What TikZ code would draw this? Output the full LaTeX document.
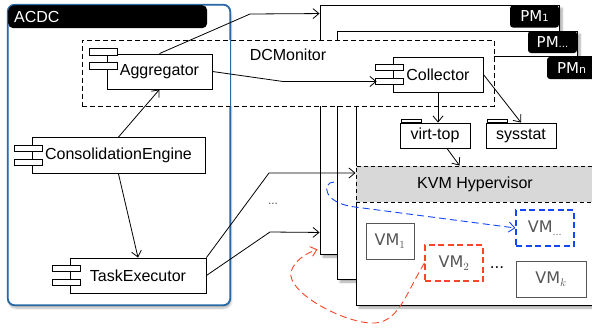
\documentclass[tikz,border=0pt]{standalone}
\usepackage{fontspec}
\setmainfont{Liberation Sans}
\newfontfamily\vmfont{DejaVu Sans}
\usetikzlibrary{arrows.meta, shadows.blur}

\definecolor{acdcblue}{RGB}{40,105,165}
\definecolor{vmblue}{RGB}{20,70,250}
\definecolor{vmred}{RGB}{250,70,40}
\definecolor{kvmgray}{RGB}{216,216,216}
\definecolor{vmgray}{RGB}{85,85,85}

\newcommand{\comptabs}[2][0]{%
  \draw[tabbox] ([xshift=-17pt,yshift=10.5pt+#1pt]#2.west) rectangle ++(28,6.5);
  \draw[tabbox] ([xshift=-17pt,yshift=-3.5pt+#1pt]#2.west) rectangle ++(28,6.5);}
\newcommand{\pkgtab}[1]{%
  \draw[tabbox] ([xshift=2pt]#1.north west) rectangle ++(20,-3);}

\tikzset{
  txt/.style={font=\fontsize{16}{19}\selectfont},
  comp/.style={draw, fill=white, line width=0.9pt, minimum height=35pt, inner sep=0pt, txt},
  tabbox/.style={draw, fill=white, line width=0.9pt},
  pkg/.style={draw, fill=white, line width=0.9pt, minimum width=70pt, minimum height=25pt, inner sep=0pt, txt},
  pmbox/.style={draw, fill=white, line width=0.9pt, inner sep=0pt,
    blur shadow={shadow xshift=3pt, shadow yshift=-3pt, shadow blur steps=6, shadow opacity=35}},
  pmtab/.style={fill=black, rounded corners=3pt, text=white, minimum width=49pt, minimum height=22pt,
    inner sep=0pt, font=\vmfont\fontsize{15}{15}\selectfont},
  vmlabel/.style={fill=white, text=vmgray, minimum height=36pt, inner sep=0pt,
    font=\vmfont\fontsize{16}{18}\selectfont},
  vmbox/.style={vmlabel, draw=vmgray, line width=0.9pt},
  vmlive/.style={vmlabel, draw=#1, line width=1.1pt, dash pattern=on 6pt off 3.5pt},
  link/.style={line width=0.8pt, -{Straight Barb[length=6pt,width=10pt]}},
  dashlink/.style={line width=0.9pt, dash pattern=on 7pt off 4pt, -{Straight Barb[length=6pt,width=10pt]}},
}

\begin{document}
\begin{tikzpicture}[x=1pt, y=-1pt]
  \useasboundingbox (0,0) rectangle (592,327);
  \clip (0,0) rectangle (592,327);

  % ACDC container
  \node[draw=acdcblue, fill=white, line width=1.1pt, rounded corners=7pt, minimum width=222pt, minimum height=300pt,
    blur shadow={shadow xshift=1pt, shadow yshift=-3pt, shadow blur steps=6, shadow opacity=30}] (acdc) at (119,155) {};
  \node[fill=black, rounded corners=5pt, text=white, anchor=north west, text width=187pt, inner xsep=6pt,
    minimum height=23pt, align=left, txt] (acdchdr) at (8,5) {ACDC};

  % physical machines
  \node[pmbox, minimum width=239pt, minimum height=249pt] (pmone) at (439.5,129.5) {};
  \node[pmtab] (pmonetab) at (534.5,16.5) {PM{\fontsize{10}{10}\selectfont 1}};
  \node[pmbox, minimum width=240pt, minimum height=248pt] (pmdots) at (457,155) {};
  \node[pmtab] (pmdotstab) at (552.5,42) {PM{\fontsize{10}{10}\selectfont ...}};
  \node[pmbox, minimum width=244pt, minimum height=249pt] (pmn) at (478,180.5) {};
  \node[pmtab] (pmntab) at (571.5,68) {PM{\fontsize{11}{11}\selectfont n}};

  % monitoring box
  \node[draw, fill=white, line width=0.9pt, dash pattern=on 5pt off 3pt, minimum width=412pt, minimum height=66pt,
    label={[anchor=north, yshift=-6pt, txt]north:DCMonitor}] (dcmon) at (288,73) {};
  \draw[acdcblue, line width=1.1pt, rounded corners=7pt] (acdc.north west) rectangle (acdc.south east);

  % hypervisor and VMs
  \node[draw, fill=kvmgray, line width=0.9pt, dash pattern=on 4pt off 3pt, minimum width=240pt, minimum height=36pt,
    inner sep=0pt] (kvm) at (476,184) {};
  \node[txt] at (475,184) {KVM Hypervisor};
  \node[vmbox, minimum width=48pt] (vmone) at (390,241) {VM$_1$};
  \node[vmlive=vmred, minimum width=58pt] (vmtwo) at (454,263) {VM$_2$};
  \node[vmlive=vmblue, minimum width=58pt] (vmdots) at (545,228) {VM$_{\dots}$};
  \node[vmbox, minimum width=70pt] (vmk) at (551,279) {VM$_k$};
  \node[font=\vmfont\fontsize{15}{15}\selectfont] (vmgap) at (497,268) {...};

  % tools
  \node[pkg] (virttop) at (435,135.5) {virt-top};
  \pkgtab{virttop}
  \node[pkg] (sysstat) at (521,135.5) {sysstat};
  \pkgtab{sysstat}

  % components
  \node[comp, minimum width=105pt] (agg) at (159.5,71.5) {Aggregator};
  \comptabs[12.5]{agg}
  \node[comp, minimum width=90pt] (coll) at (438,74.5) {Collector};
  \comptabs{coll}
  \node[comp, minimum width=173pt, minimum height=36pt] (cons) at (118.5,155.5) {ConsolidationEngine};
  \comptabs{cons}
  \node[comp, minimum width=136pt] (task) at (138,275.5) {TaskExecutor};
  \comptabs{task}

  \node[text=vmgray, font=\fontsize{12}{12}\selectfont] (taskgap) at (273,204) {...};

  % connectors
  \draw[link] (agg.north) -- (250,14) -- ([yshift=-9pt]pmone.north west);
  \draw[link] (agg.east) -- (283,81.5) -- ([xshift=-16pt,yshift=-7pt]coll.west);
  \draw[link] (cons.north) -- (agg.south);
  \draw[link] (cons.south) -- (task.north);
  \draw[link] (task.north east) -- (269,173) -- ([yshift=11pt]kvm.west);
  \draw[link] (task.east) -- (270,232) -- ([yshift=22pt]pmone.south west);
  \draw[link] (coll.south) -- (coll.south |- virttop.north);
  \draw[link] (coll.east) -- (sysstat.north);
  \draw[link] ([xshift=12pt]virttop.south) -- ([xshift=104pt]kvm.north west);

  \coordinate (kvmstart) at (334,182);
  \draw[dashlink, vmblue] (kvmstart) .. controls (322,182) and (322,203) .. (355,207) -- (vmdots.west);
  \draw[dashlink, vmred] (vmtwo.west) .. controls (405,295) and (398,325) .. (370,323)
    .. controls (340,321) and (287,292) .. (291,272) .. controls (294,261) and (306,253) .. ([xshift=-2pt,yshift=5pt]pmone.south west);
\end{tikzpicture}
\end{document}
